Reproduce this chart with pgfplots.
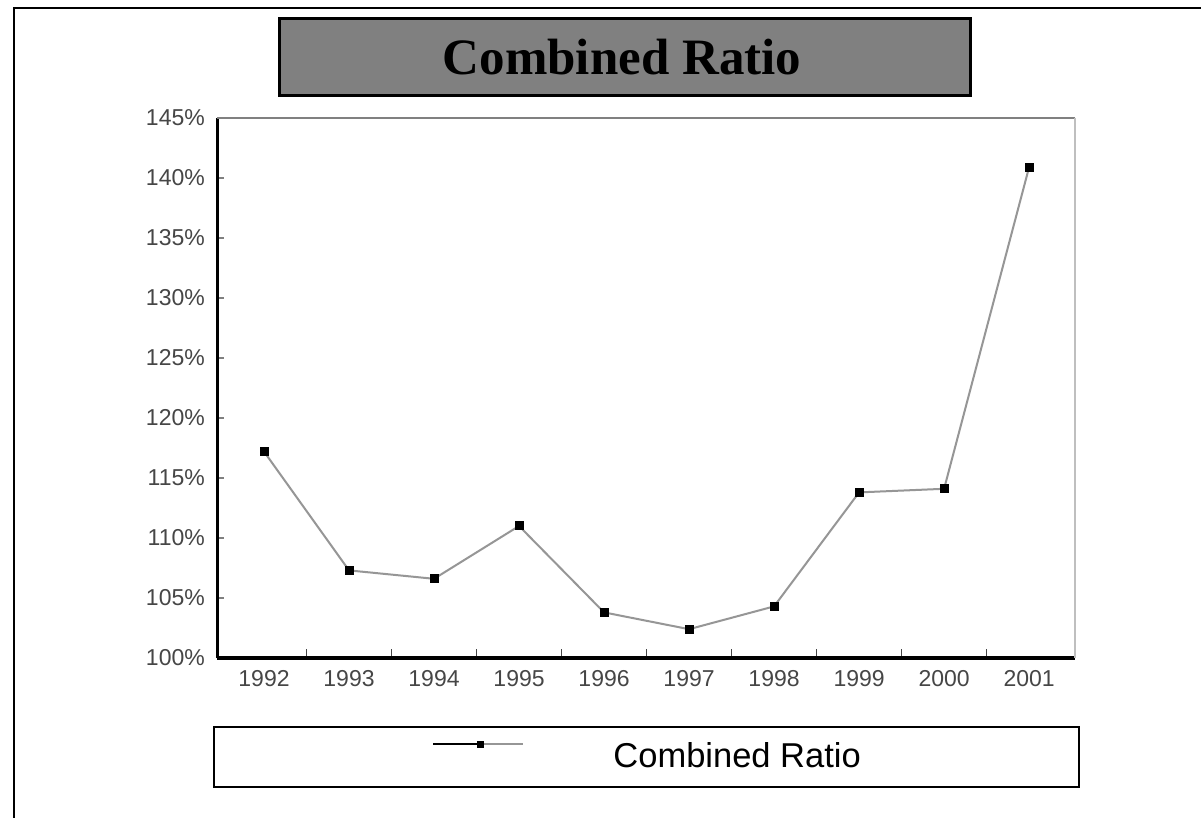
\documentclass[border=0pt]{standalone}
\usepackage{fontspec}
\setmainfont{Liberation Sans}
\newfontfamily\titlefont{Liberation Serif}
\usepackage{pgfplots}
\pgfplotsset{compat=1.18}
\definecolor{tickgray}{RGB}{70,70,70}
\definecolor{linegray}{RGB}{150,150,150}
\definecolor{titlegray}{RGB}{128,128,128}
\begin{document}
\begin{tikzpicture}[x=1pt,y=1pt]
\useasboundingbox (0,0) rectangle (1201,818);
\fill[white] (0,0) rectangle (1201,818);
\draw[black, line width=2.5pt] (14,0) -- (14,810) -- (1201,810);
% title box
\draw[black, line width=3pt, fill=titlegray] (279,722) rectangle (970,799);
\node[font=\titlefont\bfseries\fontsize{51}{51}\selectfont, inner sep=0pt] at (622,761) {Combined Ratio};
% legend box
\draw[black, line width=2.5pt] (214,31) rectangle (1079,91);
\begin{axis}[
  at={(217pt,160pt)}, anchor=south west,
  scale only axis, width=858pt, height=540pt,
  xmin=-0.553, xmax=9.54,
  ymin=100, ymax=145,
  axis lines*=left,
  x axis line style={black, line width=4pt},
  y axis line style={black, line width=3pt},
  xtick={0,1,2,3,4,5,6,7,8,9},
  xticklabels={1992,1993,1994,1995,1996,1997,1998,1999,2000,2001},
  minor xtick={0.5,1.5,2.5,3.5,4.5,5.5,6.5,7.5,8.5},
  ytick={100,105,110,115,120,125,130,135,140,145},
  yticklabels={100\%,105\%,110\%,115\%,120\%,125\%,130\%,135\%,140\%,145\%},
  tick align=inside,
  major tick length=7pt,
  minor tick length=9pt,
  major x tick style={draw=none},
  minor x tick style={draw=tickgray, line width=1.5pt},
  major y tick style={draw=gray, line width=1.5pt},
  xticklabel style={font=\fontsize{23}{23}\selectfont, text=tickgray, anchor=north, inner sep=0pt, yshift=-12pt},
  yticklabel style={font=\fontsize{23}{23}\selectfont, text=tickgray, anchor=east, inner sep=0pt, xshift=-12pt},
  clip=false,
  legend style={at={(0.5006,-0.1796)}, anchor=center, draw=none, fill=none, inner sep=0pt, column sep=89pt,
    nodes={inner sep=0pt}, font=\fontsize{34.5}{34.5}\selectfont},
  legend image code/.code={
    \draw[black, line width=2.5pt] (0pt,12pt) -- (48pt,12pt);
    \draw[linegray, line width=2pt] (48pt,12pt) -- (90pt,12pt);
    \fill[black] (45pt,9.5pt) rectangle (50pt,14.5pt);
  },
]
\addplot[linegray, line width=2pt, mark=square*, mark size=3.5pt, mark options={black, fill=black, solid}]
  coordinates {(0,117.2) (1,107.3) (2,106.6) (3,111.0) (4,103.8) (5,102.4) (6,104.3) (7,113.8) (8,114.1) (9,140.9)};
\addlegendentry{Combined Ratio}
\draw[gray, line width=2pt] (rel axis cs:0,1) -- (rel axis cs:1,1);
\draw[lightgray, line width=2pt] (rel axis cs:1,1) -- (rel axis cs:1,0);
\end{axis}
\end{tikzpicture}
\end{document}
